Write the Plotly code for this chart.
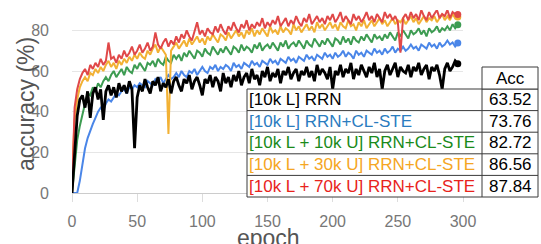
import plotly.graph_objects as go

# ---------------- data ----------------
epochs = list(range(0, 297, 2))

acc_rrn = [0, 22, 38, 46, 48, 42, 50, 37, 49, 52,
           46, 51, 36, 50, 53, 48, 52, 47, 54, 50,
           53, 49, 55, 51, 22, 47, 53, 50, 56, 52,
           49, 55, 53, 57, 50, 54, 52, 56, 49, 55,
           57, 53, 50, 56, 54, 58, 51, 55, 57, 53,
           48, 56, 54, 58, 52, 57, 55, 50, 59, 54,
           57, 52, 58, 55, 60, 53, 57, 59, 54, 61,
           56, 58, 53, 60, 57, 62, 55, 59, 57, 61,
           54, 60, 58, 62, 56, 59, 61, 55, 60, 58,
           62, 57, 60, 55, 63, 58, 61, 59, 56, 62,
           51, 60, 58, 63, 57, 61, 59, 64, 56, 61,
           58, 63, 60, 57, 62, 59, 64, 57, 61, 51,
           60, 63, 58, 61, 64, 57, 62, 60, 59, 63,
           57, 62, 60, 64, 58, 61, 63, 56, 62, 60,
           63, 58, 51, 61, 64, 60, 62, 65, 63.52]

acc_cl = [0, 0, 0, 6, 14, 22, 27, 31, 34, 37,
          40, 42, 41, 44, 46, 45, 47, 49, 48, 50,
          51, 49, 52, 51, 53, 52, 54, 53, 52, 55,
          54, 53, 56, 55, 57, 54, 56, 58, 56, 57,
          59, 57, 60, 58, 57, 60, 59, 61, 58, 60,
          62, 60, 59, 62, 61, 63, 60, 62, 61, 63,
          62, 60, 64, 62, 63, 61, 64, 63, 62, 65,
          63, 64, 62, 65, 64, 63, 66, 64, 65, 63,
          66, 65, 64, 67, 65, 66, 64, 67, 66, 65,
          68, 66, 67, 65, 68, 67, 66, 69, 67, 68,
          66, 69, 67, 68, 70, 67, 69, 68, 66, 70,
          68, 69, 67, 70, 69, 68, 71, 69, 70, 68,
          71, 69, 70, 72, 69, 71, 70, 72, 70, 71,
          73, 71, 72, 70, 73, 72, 71, 74, 72, 73,
          71, 74, 72, 73, 75, 73, 74, 72, 73.76]

acc_10u = [0, 12, 26, 33, 39, 44, 49, 48, 52, 50,
           54, 52, 55, 57, 55, 58, 60, 57, 59, 61,
           58, 62, 60, 59, 63, 61, 64, 62, 60, 64,
           63, 65, 62, 66, 64, 63, 67, 65, 64, 68,
           66, 68, 65, 69, 67, 70, 68, 66, 70, 69,
           67, 71, 69, 68, 72, 70, 68, 71, 69, 72,
           70, 68, 72, 71, 69, 73, 70, 72, 71, 69,
           73, 71, 74, 70, 72, 73, 71, 74, 72, 70,
           74, 72, 75, 71, 73, 74, 72, 75, 73, 71,
           75, 73, 72, 76, 74, 72, 75, 73, 76, 74,
           72, 76, 75, 73, 77, 74, 76, 73, 77, 75,
           74, 77, 75, 78, 76, 74, 78, 76, 77, 75,
           78, 76, 79, 77, 75, 79, 77, 80, 78, 76,
           80, 78, 79, 81, 78, 80, 77, 81, 79, 80,
           82, 79, 81, 80, 82, 80, 83, 81, 82.72]

acc_30u = [10, 36, 46, 52, 55, 57, 55, 59, 58, 61,
           59, 62, 60, 63, 65, 62, 64, 61, 65, 63,
           66, 64, 67, 65, 68, 66, 69, 67, 66, 70,
           68, 71, 73, 69, 72, 70, 68, 29, 70, 72,
           74, 71, 73, 75, 72, 76, 73, 75, 77, 74,
           76, 73, 77, 75, 78, 76, 74, 78, 77, 75,
           79, 76, 78, 80, 77, 79, 76, 80, 78, 81,
           77, 80, 78, 81, 79, 77, 82, 79, 80, 78,
           82, 79, 81, 80, 78, 83, 80, 82, 79, 81,
           83, 80, 82, 79, 84, 81, 83, 80, 82, 84,
           81, 83, 80, 84, 82, 81, 85, 82, 83, 80,
           84, 82, 85, 81, 83, 85, 82, 84, 86, 83,
           85, 82, 84, 86, 83, 85, 84, 86, 83, 85,
           87, 84, 86, 83, 85, 87, 84, 86, 85, 87,
           84, 86, 88, 85, 87, 85, 88, 86, 86.56]

acc_70u = [0, 42, 51, 56, 59, 61, 58, 63, 61, 64,
           62, 66, 63, 65, 74, 66, 67, 64, 68, 66,
           70, 67, 69, 72, 68, 70, 73, 69, 71, 74,
           70, 72, 79, 73, 71, 74, 76, 72, 75, 73,
           77, 74, 78, 76, 80, 77, 75, 79, 84, 78,
           80, 77, 81, 79, 78, 82, 79, 83, 80, 78,
           82, 80, 84, 81, 79, 83, 81, 85, 80, 83,
           81, 84, 82, 86, 81, 84, 82, 85, 83, 87,
           82, 84, 86, 82, 85, 83, 87, 84, 82, 86,
           84, 88, 83, 85, 87, 84, 86, 83, 87, 85,
           88, 84, 86, 89, 84, 87, 85, 83, 88, 85,
           87, 84, 86, 89, 85, 87, 84, 88, 86, 84,
           89, 86, 88, 85, 87, 84, 69, 86, 88, 85,
           89, 86, 88, 85, 90, 87, 85, 89, 86, 88,
           90, 86, 88, 87, 90, 86, 89, 88, 87.84]

method_labels = ["[10k L] RRN", "[10k L] RRN+CL-STE", "[10k L + 10k U] RRN+CL-STE",
                 "[10k L + 30k U] RRN+CL-STE", "[10k L + 70k U] RRN+CL-STE"]
final_acc = ["63.52", "73.76", "82.72", "86.56", "87.84"]
header_label = "Acc"

x_ticks = [0, 50, 100, 150, 200, 250, 300]
y_ticks = [0, 20, 40, 60, 80]

# ---------------- style ----------------
line_colors = ["#000000", "#4a86e8", "#3d9c52", "#f2b134", "#e04848"]
text_colors = ["#000000", "#2a7cbf", "#1a8a1a", "#f5a623", "#e8231c"]
series = [acc_rrn, acc_cl, acc_10u, acc_30u, acc_70u]

W, H = 541, 244
ML, MR, MT, MB = 72, 78, 10, 51
PW, PH = W - ML - MR, H - MT - MB


def px(x):
    return (x - ML) / PW


def py(y):
    return (H - MB - y) / PH


fig = go.Figure()
draw_order = [1, 2, 3, 4, 0]
for i in draw_order:
    fig.add_trace(go.Scatter(
        x=epochs, y=series[i], mode="lines",
        line=dict(color=line_colors[i], width=2.8 if i == 0 else 2),
        showlegend=False, hoverinfo="skip"))
    fig.add_trace(go.Scatter(
        x=[epochs[-1]], y=[series[i][-1]], mode="markers",
        marker=dict(color=line_colors[i], size=7),
        showlegend=False, hoverinfo="skip"))

# ---------------- table overlay ----------------
tbl_left, tbl_div, tbl_right = 247, 482, 538
hdr_top, body_top, row_h = 67, 89, 21.6
n = len(method_labels)
body_bot = body_top + n * row_h
shapes = []
border = dict(color="#3a3a3a", width=1)
shapes.append(dict(type="rect", xref="paper", yref="paper", layer="above",
                   x0=px(tbl_left), x1=px(tbl_right), y0=py(body_bot), y1=py(body_top),
                   fillcolor="white", line=border))
shapes.append(dict(type="rect", xref="paper", yref="paper", layer="above",
                   x0=px(tbl_div), x1=px(tbl_right), y0=py(body_top), y1=py(hdr_top),
                   fillcolor="white", line=border))
shapes.append(dict(type="line", xref="paper", yref="paper", layer="above",
                   x0=px(tbl_div), x1=px(tbl_div), y0=py(body_bot), y1=py(body_top), line=border))
for k in range(1, n):
    yy = body_top + k * row_h
    shapes.append(dict(type="line", xref="paper", yref="paper", layer="above",
                       x0=px(tbl_left), x1=px(tbl_right), y0=py(yy), y1=py(yy), line=border))

tfont = "Liberation Sans, Arial, sans-serif"
TS = 17
annotations = [dict(xref="paper", yref="paper", x=px((tbl_div + tbl_right) / 2),
                    y=py((hdr_top + body_top) / 2), text=header_label, showarrow=False,
                    xanchor="center", yanchor="middle",
                    font=dict(family=tfont, size=TS, color="black"))]
for k in range(n):
    yc = py(body_top + (k + 0.5) * row_h)
    annotations.append(dict(xref="paper", yref="paper", x=px(tbl_left), y=yc,
                            text=method_labels[k], showarrow=False, xanchor="left",
                            yanchor="middle",
                            font=dict(family=tfont, size=TS, color=text_colors[k])))
    annotations.append(dict(xref="paper", yref="paper", x=px((tbl_div + tbl_right) / 2), y=yc,
                            text=final_acc[k], showarrow=False, xanchor="center",
                            yanchor="middle",
                            font=dict(family=tfont, size=TS, color="black")))

# axis titles
annotations.append(dict(xref="paper", yref="paper", x=px(26), y=py(104),
                        text="accuracy (%)", textangle=-90, showarrow=False,
                        xanchor="center", yanchor="middle",
                        font=dict(family=tfont, size=23, color="#555555")))
annotations.append(dict(xref="paper", yref="paper", x=px(268), y=py(238),
                        text="epoch", showarrow=False, xanchor="center", yanchor="middle",
                        font=dict(family=tfont, size=23, color="#555555")))

fig.update_layout(
    width=W, height=H,
    margin=dict(l=ML, r=MR, t=MT, b=MB, pad=0),
    paper_bgcolor="white", plot_bgcolor="white",
    shapes=shapes, annotations=annotations,
    font=dict(family=tfont),
)
fig.update_xaxes(range=[0, 300], tickvals=x_ticks, showgrid=False, zeroline=False,
                 showline=True, linecolor="#cccccc", linewidth=1,
                 ticks="outside", ticklen=8, tickcolor="#dddddd",
                 ticklabelstandoff=6,
                 tickfont=dict(family=tfont, size=16, color="#777777"))
fig.update_yaxes(range=[0, 90], tickvals=y_ticks, showgrid=True, gridcolor="#e6e6e6",
                 gridwidth=1, zeroline=False, showline=False,
                 ticks="", ticklabelstandoff=22,
                 tickfont=dict(family=tfont, size=16, color="#777777"))

fig.write_html("out.html", config={"displayModeBar": False},
               post_script="document.body.style.margin='0';document.body.style.padding='0';")
